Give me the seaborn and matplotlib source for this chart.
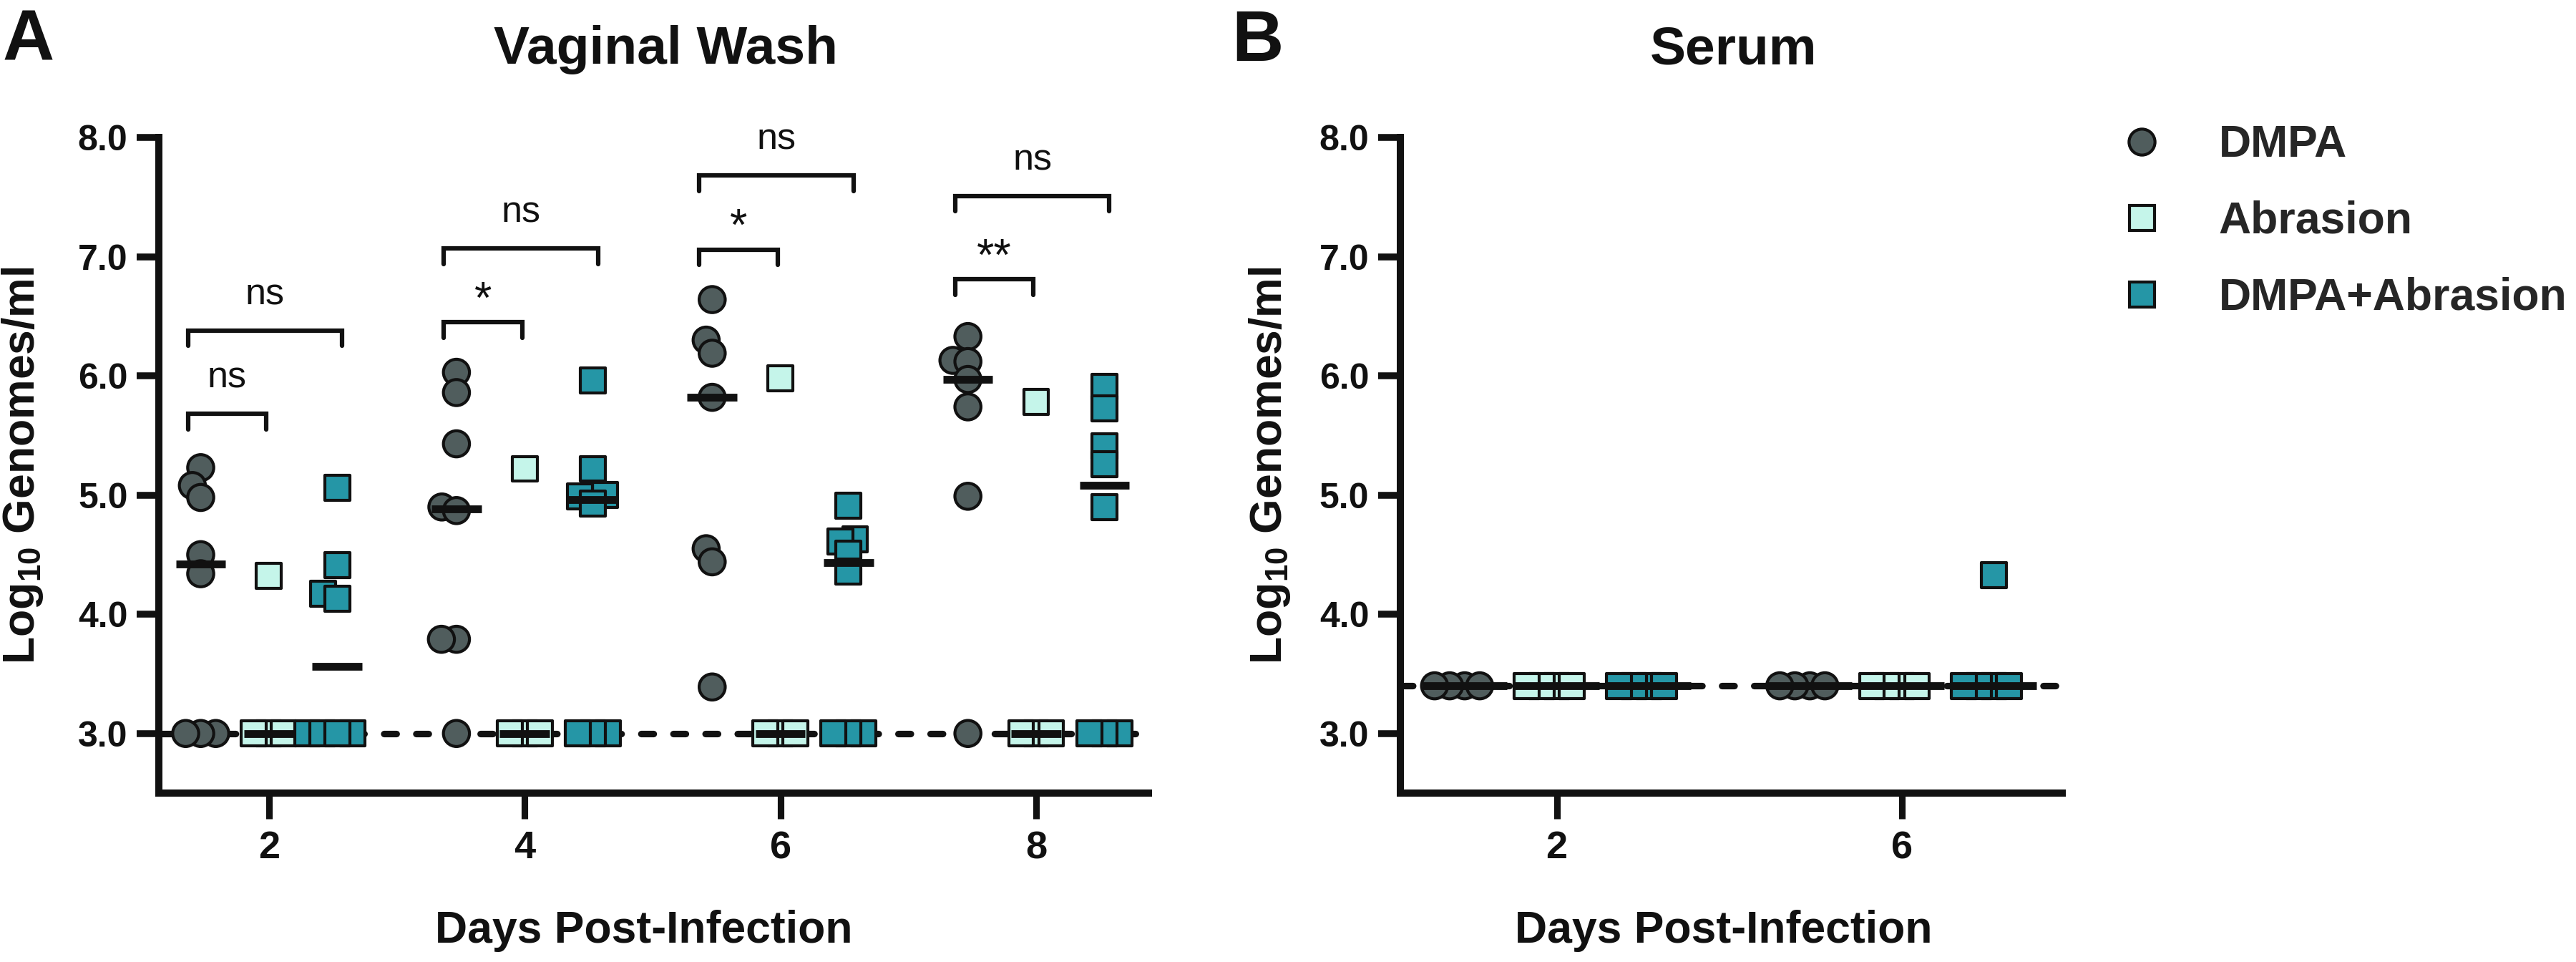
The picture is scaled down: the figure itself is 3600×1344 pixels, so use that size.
import pandas as pd
import seaborn as sns
import matplotlib.pyplot as plt
from matplotlib.markers import MarkerStyle
from matplotlib.transforms import Affine2D
from matplotlib.lines import Line2D
from matplotlib.ticker import FormatStrFormatter

# log10 genomes/ml
groups = ["DMPA", "Abrasion", "DMPA+Abrasion"]
colors = {"DMPA": "#505d5d", "Abrasion": "#c5f5ea", "DMPA+Abrasion": "#2596a6"}

wash_days = ["2", "4", "6", "8"]
wash_lod = 3.0
wash_dmpa = {
    "2": [5.23, 5.08, 4.98, 4.50, 4.34, 3.0, 3.0, 3.0],
    "4": [6.03, 5.86, 5.43, 4.90, 4.87, 3.79, 3.79, 3.0],
    "6": [6.64, 6.30, 6.19, 5.82, 4.55, 4.44, 3.39],
    "8": [6.33, 6.13, 6.12, 5.97, 5.74, 4.99, 3.0],
}
wash_abrasion = {
    "2": [4.32, 3.0, 3.0, 3.0],
    "4": [5.22, 3.0, 3.0, 3.0],
    "6": [5.98, 3.0, 3.0, 3.0],
    "8": [5.78, 3.0, 3.0, 3.0],
}
wash_both = {
    "2": [5.06, 4.41, 4.17, 4.13, 3.0, 3.0, 3.0, 3.0],
    "4": [5.96, 5.22, 5.00, 4.99, 4.93, 3.0, 3.0, 3.0],
    "6": [4.91, 4.63, 4.61, 4.51, 4.36, 3.0, 3.0, 3.0],
    "8": [5.91, 5.73, 5.41, 5.26, 4.90, 3.0, 3.0, 3.0],
}
# (day, compared with DMPA, bracket height, label)
wash_stats = [
    ("2", "Abrasion", 5.68, "ns"),
    ("2", "DMPA+Abrasion", 6.38, "ns"),
    ("4", "Abrasion", 6.45, "*"),
    ("4", "DMPA+Abrasion", 7.07, "ns"),
    ("6", "Abrasion", 7.06, "*"),
    ("6", "DMPA+Abrasion", 7.68, "ns"),
    ("8", "Abrasion", 6.81, "**"),
    ("8", "DMPA+Abrasion", 7.51, "ns"),
]

serum_days = ["2", "6"]
serum_lod = 3.4
serum_dmpa = {"2": [3.4, 3.4, 3.4, 3.4], "6": [3.4, 3.4, 3.4, 3.4]}
serum_abrasion = {"2": [3.4, 3.4, 3.4, 3.4], "6": [3.4, 3.4, 3.4, 3.4]}
serum_both = {"2": [3.4, 3.4, 3.4, 3.4], "6": [4.33, 3.4, 3.4, 3.4, 3.4]}


def to_frame(days, per_group):
    rows = []
    for g, d in zip(groups, per_group):
        for day in days:
            for v in d[day]:
                rows.append((day, g, v))
    return pd.DataFrame(rows, columns=["day", "group", "value"])


sns.set_style("ticks")
plt.rcParams["font.family"] = ["Liberation Sans", "DejaVu Sans"]
plt.rcParams["font.weight"] = "bold"
plt.rcParams["axes.labelweight"] = "bold"
plt.rcParams["mathtext.fontset"] = "custom"
plt.rcParams["mathtext.rm"] = "Liberation Sans:bold"
plt.rcParams["mathtext.it"] = "Liberation Sans:bold"
plt.rcParams["mathtext.bf"] = "Liberation Sans:bold"

ink = "#111111"
# small swarm size for spacing, marker scaled up so points overlap like Prism
markers = {
    "DMPA": MarkerStyle("o", transform=Affine2D().scale(2.3)),
    "Abrasion": MarkerStyle("s", transform=Affine2D().scale(2.2)),
    "DMPA+Abrasion": MarkerStyle("s", transform=Affine2D().scale(2.2)),
}


def draw_panel(ax, df, days, lod, gap):
    ax.axhline(lod, color=ink, lw=2.2, ls=(0, (1.9, 3.0)),
               dash_capstyle="round", zorder=1)
    for g in groups:
        sns.swarmplot(data=df[df.group == g], x="day", y="value", hue="group",
                      order=days, hue_order=groups, palette=colors, dodge=True,
                      marker=markers[g], size=3.8, linewidth=1.0,
                      edgecolor=ink, legend=False, ax=ax, zorder=3)
    sns.boxplot(data=df, x="day", y="value", hue="group", order=days,
                hue_order=groups, palette=colors, dodge=True, gap=gap,
                showbox=False, showcaps=False, showfliers=False,
                whiskerprops={"visible": False},
                medianprops={"color": ink, "linewidth": 2.6, "zorder": 5,
                             "solid_capstyle": "butt"},
                legend=False, ax=ax)
    ax.set_ylim(2.5, 8.0)
    ax.set_yticks([3, 4, 5, 6, 7, 8])
    ax.yaxis.set_major_formatter(FormatStrFormatter("%.1f"))
    sns.despine(ax=ax)
    for s in ["left", "bottom"]:
        ax.spines[s].set_linewidth(2.4)
        ax.spines[s].set_color(ink)
    ax.tick_params(axis="y", length=7.5, width=2.3, pad=3, labelsize=12,
                   color=ink, labelcolor=ink)
    ax.tick_params(axis="x", length=8.6, width=2.2, pad=4, labelsize=13,
                   color=ink, labelcolor=ink)
    ax.set_xlabel("Days Post-Infection", fontsize=15, fontweight="bold",
                  color=ink)
    ax.set_ylabel("Log$_{10}$ Genomes/ml", fontsize=15, fontweight="bold",
                  color=ink)


fig = plt.figure(figsize=(12, 4.48), dpi=300)
ax_a = fig.add_axes([0.0617, 0.1756, 0.3842, 0.6815])
ax_b = fig.add_axes([0.5436, 0.1756, 0.2569, 0.6815])

wash = to_frame(wash_days, [wash_dmpa, wash_abrasion, wash_both])
serum = to_frame(serum_days, [serum_dmpa, serum_abrasion, serum_both])

draw_panel(ax_a, wash, wash_days, wash_lod, gap=0.27)
draw_panel(ax_b, serum, serum_days, serum_lod, gap=0.08)
ax_a.set_xlim(-0.43, 3.44)
ax_b.set_xlim(-0.453, 1.464)

ax_a.xaxis.set_label_coords(0.49, -0.178)
ax_b.xaxis.set_label_coords(0.488, -0.178)
ax_a.yaxis.set_label_coords(-0.115, 0.5)
ax_b.yaxis.set_label_coords(-0.163, 0.5)

ax_a.text(0.512, 1.1125, "Vaginal Wash", transform=ax_a.transAxes,
          ha="center", va="baseline", fontsize=18, color=ink)
ax_b.text(0.503, 1.1125, "Serum", transform=ax_b.transAxes,
          ha="center", va="baseline", fontsize=18, color=ink)

# significance brackets, all against DMPA
step = 0.8 / len(groups)
for day, other, y, lab in wash_stats:
    i = wash_days.index(day)
    x1 = i - step - 0.05
    x2 = i + (groups.index(other) - 1) * step
    x2 += -0.01 if other == "Abrasion" else 0.02
    ax_a.plot([x1, x1, x2, x2], [y - 0.13, y, y, y - 0.13], color=ink,
              lw=1.5, solid_joinstyle="miter", clip_on=False, zorder=4)
    if lab == "ns":
        ax_a.text((x1 + x2) / 2, y + 0.22, lab, ha="center", va="baseline",
                  fontsize=12.5, fontweight="normal", color=ink)
    else:
        ax_a.text((x1 + x2) / 2, y + 0.08, lab, ha="center", va="baseline",
                  fontsize=15, fontweight="normal", color=ink)

fig.text(0.001, 0.9368, "A", fontsize=24, ha="left", va="baseline", color=ink)
fig.text(0.478, 0.9368, "B", fontsize=24, ha="left", va="baseline", color=ink)

handles = [
    Line2D([], [], ls="none", marker="o", markersize=8.7, mfc=colors["DMPA"],
           mec=ink, mew=1.0),
    Line2D([], [], ls="none", marker="s", markersize=8.4, mfc=colors["Abrasion"],
           mec=ink, mew=1.0),
    Line2D([], [], ls="none", marker="s", markersize=8.4,
           mfc=colors["DMPA+Abrasion"], mec=ink, mew=1.0),
]
fig.legend(handles, groups, loc="upper left", bbox_to_anchor=(0.814, 0.871),
           frameon=False, prop={"weight": "bold", "size": 15},
           handlelength=2.0, handletextpad=0.72, labelspacing=0.76,
           borderpad=0, borderaxespad=0)

fig.savefig("out.png", dpi=300)
